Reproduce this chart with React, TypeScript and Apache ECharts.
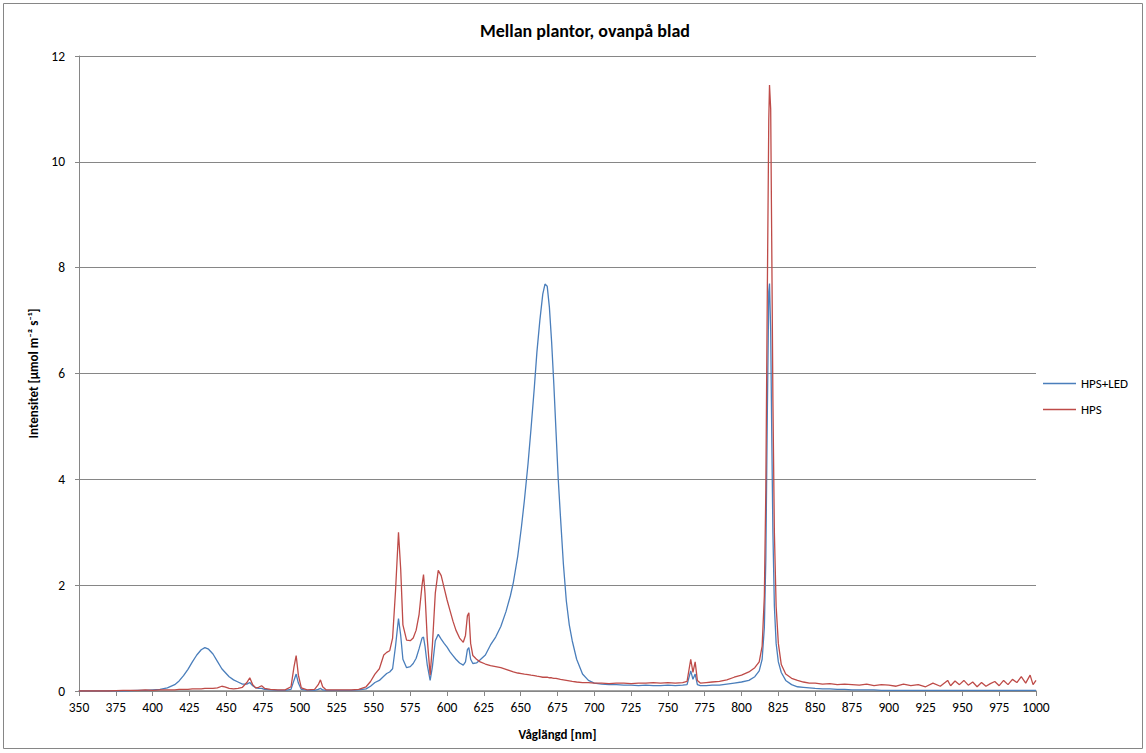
import React, { useEffect, useRef } from "react";
import * as echarts from "echarts";

const TITLE = "Mellan plantor, ovanpå blad";
const X_NAME = "Våglängd [nm]";
const Y_NAME = "Intensitet [µmol m⁻² s⁻¹]";
const SERIES_NAMES = ["HPS+LED", "HPS"];

const wavelengths = [
  350, 360, 370, 380, 390, 395, 400, 405, 410, 415, 418, 421, 424, 427, 430, 433, 435.5, 438, 441, 444,
  447, 449, 452, 455, 458, 461, 464, 466, 468, 470, 472, 474, 476, 480, 485, 490, 494, 496, 497.5, 499,
  501, 505, 510, 512.5, 514, 515.5, 518, 525, 530, 535, 540, 545, 548, 551, 554, 557, 559, 561, 563, 565,
  567, 568.5, 570, 572.5, 575, 577, 579, 581, 583, 584, 585, 586.5, 588.5, 590, 592, 594, 596, 598, 600, 602,
  604, 606, 608.5, 611, 612.5, 613.8, 614.8, 616, 617.5, 620, 622.5, 626, 629.5, 633, 636.5, 640, 643, 645, 648, 650.5,
  652.5, 655, 657, 659.3, 661, 663, 665, 666.5, 668, 669.5, 671, 672.5, 674, 675.5, 677, 679, 681, 683, 685, 688,
  692, 696, 700, 705, 710, 715, 720, 725, 730, 735, 740, 745, 750, 755, 760, 763, 765.5, 767, 768.5, 770,
  772, 776, 780, 785, 790, 795, 800, 805, 809, 812, 814, 815.5, 816.5, 817.5, 818.5, 819, 819.8, 820.5, 821.3, 822.3,
  823.5, 825, 827, 830, 834, 838, 842, 846, 850, 855, 860, 865, 870, 875, 880, 885, 890, 895, 900, 905,
  910, 915, 920, 925, 930, 935, 940, 942, 945, 948, 951, 954, 957, 960, 963, 966, 969, 972, 975, 978,
  981, 984, 987, 990, 993, 996, 998, 1000,
];

const hpsLed = [
  0, 0, 0, 0, 0.01, 0.01, 0.02, 0.03, 0.06, 0.12, 0.19, 0.29, 0.41, 0.55, 0.68, 0.78, 0.82, 0.79, 0.7, 0.56,
  0.42, 0.36, 0.27, 0.21, 0.17, 0.13, 0.13, 0.16, 0.1, 0.06, 0.05, 0.05, 0.03, 0.02, 0.01, 0.01, 0.03, 0.2, 0.32, 0.15,
  0.03, 0.01, 0.01, 0.03, 0.05, 0.02, 0.01, 0.01, 0.01, 0.01, 0.02, 0.04, 0.09, 0.16, 0.2, 0.28, 0.33, 0.36, 0.42, 0.85,
  1.37, 1.05, 0.6, 0.44, 0.46, 0.52, 0.62, 0.8, 1.0, 1.02, 0.85, 0.5, 0.2, 0.45, 0.95, 1.07, 0.98, 0.9, 0.83, 0.74,
  0.67, 0.6, 0.53, 0.49, 0.55, 0.78, 0.82, 0.6, 0.52, 0.53, 0.59, 0.68, 0.87, 1.02, 1.22, 1.5, 1.8, 2.05, 2.55, 3.1,
  3.6, 4.3, 4.95, 5.75, 6.4, 7.0, 7.5, 7.69, 7.65, 7.25, 6.6, 5.8, 4.9, 4.0, 3.3, 2.4, 1.7, 1.25, 0.95, 0.6,
  0.32, 0.2, 0.15, 0.13, 0.12, 0.12, 0.11, 0.11, 0.1, 0.11, 0.1, 0.1, 0.11, 0.1, 0.11, 0.12, 0.38, 0.22, 0.32, 0.12,
  0.1, 0.1, 0.11, 0.11, 0.13, 0.15, 0.17, 0.2, 0.27, 0.38, 0.6, 1.2, 2.5, 5.2, 7.55, 7.7, 6.8, 4.9, 3.0, 1.6,
  0.9, 0.55, 0.35, 0.2, 0.12, 0.08, 0.07, 0.06, 0.05, 0.04, 0.04, 0.03, 0.03, 0.02, 0.02, 0.02, 0.02, 0.01, 0.01, 0.01,
  0.01, 0.01, 0.01, 0.01, 0.01, 0.01, 0.01, 0.01, 0.01, 0.01, 0.01, 0.01, 0.01, 0.01, 0.01, 0.01, 0.01, 0.01, 0.01, 0.01,
  0.01, 0.01, 0.01, 0.01, 0.01, 0.01, 0.01, 0.01,
];

const hps = [
  0, 0, 0, 0.01, 0.01, 0.02, 0.01, 0.02, 0.02, 0.02, 0.03, 0.03, 0.03, 0.04, 0.04, 0.04, 0.05, 0.05, 0.05, 0.06,
  0.09, 0.08, 0.05, 0.04, 0.05, 0.07, 0.16, 0.25, 0.12, 0.06, 0.07, 0.1, 0.05, 0.03, 0.02, 0.02, 0.08, 0.45, 0.67, 0.3,
  0.06, 0.02, 0.03, 0.12, 0.21, 0.08, 0.02, 0.02, 0.02, 0.02, 0.03, 0.08, 0.18, 0.32, 0.42, 0.68, 0.73, 0.76, 1.0, 1.9,
  3.0, 2.3, 1.25, 0.96, 0.95, 1.0, 1.15, 1.45, 2.0, 2.2, 1.85, 1.0, 0.3, 0.85, 1.85, 2.28, 2.18, 1.95, 1.72, 1.52,
  1.32, 1.15, 1.0, 0.92, 1.05, 1.42, 1.48, 0.9, 0.67, 0.6, 0.55, 0.51, 0.48, 0.46, 0.44, 0.41, 0.38, 0.36, 0.34, 0.33,
  0.32, 0.31, 0.3, 0.29, 0.28, 0.27, 0.26, 0.26, 0.26, 0.25, 0.25, 0.24, 0.24, 0.23, 0.22, 0.21, 0.2, 0.19, 0.18, 0.17,
  0.16, 0.16, 0.15, 0.15, 0.14, 0.15, 0.15, 0.14, 0.15, 0.15, 0.16, 0.15, 0.16, 0.15, 0.16, 0.18, 0.6, 0.35, 0.55, 0.2,
  0.15, 0.16, 0.17, 0.18, 0.21, 0.26, 0.3, 0.36, 0.44, 0.55, 0.85, 1.8, 3.8, 7.5, 10.8, 11.45, 11.0, 8.5, 5.5, 3.0,
  1.6, 0.9, 0.5, 0.32, 0.24, 0.2, 0.17, 0.15, 0.15, 0.13, 0.14, 0.12, 0.13, 0.12, 0.11, 0.13, 0.1, 0.12, 0.11, 0.09,
  0.13, 0.1, 0.12, 0.08, 0.15, 0.09, 0.2, 0.1, 0.19, 0.12, 0.2, 0.11, 0.17, 0.08, 0.16, 0.09, 0.14, 0.18, 0.1, 0.2,
  0.12, 0.22, 0.16, 0.27, 0.15, 0.3, 0.12, 0.2,
];

const COLORS = ["#4a7ebb", "#be4b48"];
const FONT = "Carlito, Calibri, Lato, 'Open Sans', sans-serif";
const AXIS_GRAY = "#868686";

export default function App() {
  const ref = useRef<HTMLDivElement>(null);
  useEffect(() => {
    if (!ref.current) return;
    const chart = echarts.init(ref.current, undefined, { renderer: "svg" });
    const seriesValues = [hpsLed, hps];
    chart.setOption({
      animation: false,
      backgroundColor: "#ffffff",
      textStyle: { fontFamily: FONT },
      title: {
        text: TITLE,
        left: 580,
        textAlign: "center",
        top: 17,
        textStyle: { fontFamily: FONT, fontSize: 18, fontWeight: "bold", color: "#000" },
      },
      graphic: [
        {
          type: "rect",
          shape: { x: 3.5, y: 3.5, width: 1139, height: 745 },
          style: { fill: "none", stroke: AXIS_GRAY, lineWidth: 1 },
          silent: true,
          z: -1,
        },
      ],
      legend: {
        orient: "vertical",
        left: 1043,
        top: 377,
        padding: 0,
        icon: "rect",
        itemWidth: 33,
        itemHeight: 1.5,
        itemGap: 13,
        textStyle: { fontFamily: FONT, fontSize: 13, color: "#000", padding: [0, 0, 0, 0] },
        data: SERIES_NAMES,
      },
      grid: { left: 79, right: 110, top: 56, bottom: 62, containLabel: false },
      xAxis: {
        type: "value",
        min: 350,
        max: 1000,
        interval: 25,
        name: X_NAME,
        nameLocation: "middle",
        nameGap: 37,
        nameTextStyle: { fontFamily: FONT, fontSize: 13, fontWeight: "bold", color: "#000" },
        axisLine: { show: true, lineStyle: { color: AXIS_GRAY, width: 1.5 } },
        axisTick: { show: true, length: 5, lineStyle: { color: AXIS_GRAY } },
        axisLabel: {
          fontFamily: FONT,
          fontSize: 13.5,
          color: "#000",
          margin: 9,
          formatter: (v: number) => String(v),
        },
        splitLine: { show: false },
      },
      yAxis: {
        type: "value",
        min: 0,
        max: 12,
        interval: 2,
        name: Y_NAME,
        nameLocation: "middle",
        nameGap: 36,
        nameRotate: 90,
        nameTextStyle: { fontFamily: FONT, fontSize: 13, fontWeight: "bold", color: "#000" },
        axisLine: { show: true, lineStyle: { color: AXIS_GRAY, width: 1 } },
        axisTick: { show: true, length: 4, lineStyle: { color: AXIS_GRAY } },
        axisLabel: { fontFamily: FONT, fontSize: 13.5, color: "#000", margin: 14 },
        splitLine: { show: true, lineStyle: { color: AXIS_GRAY, width: 1 } },
      },
      series: SERIES_NAMES.map((name, si) => ({
        name,
        type: "line",
        symbol: "none",
        showSymbol: false,
        color: COLORS[si],
        itemStyle: { color: COLORS[si] },
        lineStyle: { color: COLORS[si], width: 1.3 },
        data: wavelengths.map((w, i) => [w, seriesValues[si][i]]),
      })),
    });
    return () => chart.dispose();
  }, []);
  return (
    <div
      ref={ref}
      style={{ position: "absolute", left: 0, top: 0, width: 1146, height: 753 }}
    />
  );
}
